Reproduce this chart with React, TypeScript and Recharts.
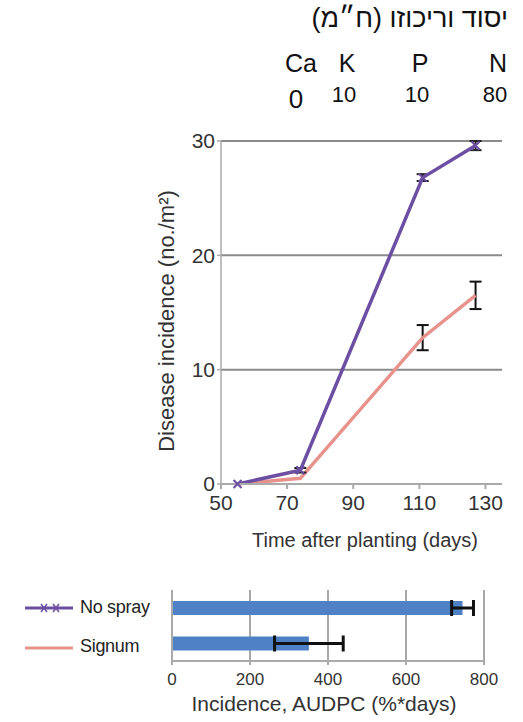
import React from 'react';
import { LineChart, Line, XAxis, YAxis, CartesianGrid, ErrorBar, BarChart, Bar } from 'recharts';

// header: element and concentration (ppm)
const elements = ['Ca', 'K', 'P', 'N'];
const concentrations = ['0', '10', '10', '80'];

// disease incidence over time
const days = [55, 74, 111, 127];
const noSpray = [0, 1.2, 26.8, 29.6];
const noSprayErr = [null, 0.2, 0.3, 0.4];
const signum = [0, 0.5, 12.8, 16.5];
const signumErr = [null, null, 1.1, 1.2];
const dayTicks = [50, 70, 90, 110, 130];
const incidenceTicks = [0, 10, 20, 30];

// AUDPC
const treatments = ['No spray', 'Signum'];
const audpc = [745, 351];
const audpcErr = [28, 88];
const audpcTicks = [0, 200, 400, 600, 800];

const PURPLE = '#6c4ea3';
const PINK = '#e8928c';
const BLUE = '#4f81c6';
const FONT = '"Liberation Sans", Arial, sans-serif';

const lineData = days.map((d, i) => ({
  day: d,
  noSpray: noSpray[i],
  noSprayErr: noSprayErr[i],
  signum: signum[i],
  signumErr: signumErr[i],
}));

const barData = treatments.map((t, i) => ({ name: t, value: audpc[i], err: audpcErr[i] }));

const XMark = (props: any) => {
  const { cx, cy } = props;
  if (cx == null || cy == null) return null;
  const s = 4;
  return (
    <path
      d={`M${cx - s},${cy - s}L${cx + s},${cy + s}M${cx + s},${cy - s}L${cx - s},${cy + s}`}
      stroke={PURPLE}
      strokeWidth={2}
      fill="none"
    />
  );
};

const headerX = [301, 347, 420, 498];

const centered = (x: number, y: number, extra: React.CSSProperties = {}): React.CSSProperties => ({
  position: 'absolute',
  left: x,
  top: y,
  transform: 'translate(-50%, -50%)',
  whiteSpace: 'nowrap',
  lineHeight: 1,
  ...extra,
});

const tickStyle = { fill: '#333', fontSize: 21, fontFamily: FONT };

export default function App() {
  return (
    <div style={{ position: 'absolute', left: 0, top: 0, width: 523, height: 722, background: '#fff', fontFamily: FONT }}>
      <div dir="rtl" style={{ position: 'absolute', right: 15, top: 5, fontSize: 27, lineHeight: 1, color: '#111' }}>
        יסוד וריכוזו (ח״מ)
      </div>
      {elements.map((e, i) => (
        <div key={e} style={centered(headerX[i], 63, { fontSize: 25, color: '#111' })}>{e}</div>
      ))}
      {concentrations.map((c, i) => (
        <div key={i} style={centered(headerX[i] - (i === 0 ? 5 : 3), i === 0 ? 99 : 95, { fontSize: i === 0 ? 26 : 22, color: '#111' })}>{c}</div>
      ))}

      <div style={{ position: 'absolute', left: 0, top: 0 }}>
        <LineChart width={523} height={560} data={lineData} margin={{ top: 141, right: 21, bottom: 46, left: 113 }}>
          <CartesianGrid vertical={false} stroke="#8a8a8a" strokeWidth={2} />
          <XAxis
            dataKey="day"
            type="number"
            domain={[50, 135]}
            ticks={dayTicks}
            height={30}
            tickSize={5}
            tickMargin={6}
            stroke="#aaa"
            strokeWidth={2}
            tick={tickStyle}
          />
          <YAxis
            type="number"
            domain={[0, 30]}
            ticks={incidenceTicks}
            width={108}
            tickSize={4}
            tickMargin={2}
            stroke="#aaa"
            strokeWidth={1.5}
            tick={tickStyle}
          />
          <Line
            dataKey="signum"
            stroke={PINK}
            strokeWidth={3.5}
            dot={false}
            isAnimationActive={false}
          >
            <ErrorBar dataKey="signumErr" width={6} stroke="#111" strokeWidth={2} direction="y" />
          </Line>
          <Line
            dataKey="noSpray"
            stroke={PURPLE}
            strokeWidth={3.5}
            dot={<XMark />}
            isAnimationActive={false}
          >
            <ErrorBar dataKey="noSprayErr" width={6} stroke="#222" strokeWidth={2} direction="y" />
          </Line>
        </LineChart>
      </div>
      <div style={centered(167, 321, { transform: 'translate(-50%, -50%) rotate(-90deg)', fontSize: 22, color: '#333' })}>
        Disease incidence (no./m²)
      </div>
      <div style={centered(365, 540, { fontSize: 20, color: '#333' })}>Time after planting (days)</div>

      <svg style={{ position: 'absolute', left: 0, top: 590 }} width={80} height={70}>
        <line x1={25} x2={73} y1={18} y2={18} stroke={PURPLE} strokeWidth={3} />
        <path d="M41,14L47,22M47,14L41,22M53,14L59,22M59,14L53,22" stroke={PURPLE} strokeWidth={1.5} />
        <line x1={25} x2={73} y1={58} y2={58} stroke={PINK} strokeWidth={3} />
      </svg>
      <div style={{ position: 'absolute', left: 80, top: 598, fontSize: 18, lineHeight: 1, color: '#222', letterSpacing: -0.3 }}>No spray</div>
      <div style={{ position: 'absolute', left: 80, top: 637, fontSize: 18, lineHeight: 1, color: '#222', letterSpacing: -0.3 }}>Signum</div>

      <div style={{ position: 'absolute', left: 0, top: 575 }}>
        <BarChart width={523} height={116} data={barData} layout="vertical" margin={{ top: 15, right: 39, bottom: 0, left: 166 }}>
          <CartesianGrid horizontal={false} stroke="#a8a8a8" strokeWidth={2} />
          <XAxis
            type="number"
            domain={[0, 800]}
            ticks={audpcTicks}
            height={30}
            tickSize={4}
            tickMargin={8}
            stroke="#aaa"
            strokeWidth={2}
            tick={{ fill: '#333', fontSize: 17, fontFamily: FONT }}
          />
          <YAxis type="category" dataKey="name" width={6} tick={false} tickLine={false} stroke="#aaa" strokeWidth={2} />
          <Bar dataKey="value" fill={BLUE} barSize={14} isAnimationActive={false}>
            <ErrorBar dataKey="err" direction="x" width={8} stroke="#111" strokeWidth={3} />
          </Bar>
        </BarChart>
      </div>
      <div style={centered(324, 703, { fontSize: 21, color: '#333' })}>Incidence, AUDPC (%*days)</div>
    </div>
  );
}
